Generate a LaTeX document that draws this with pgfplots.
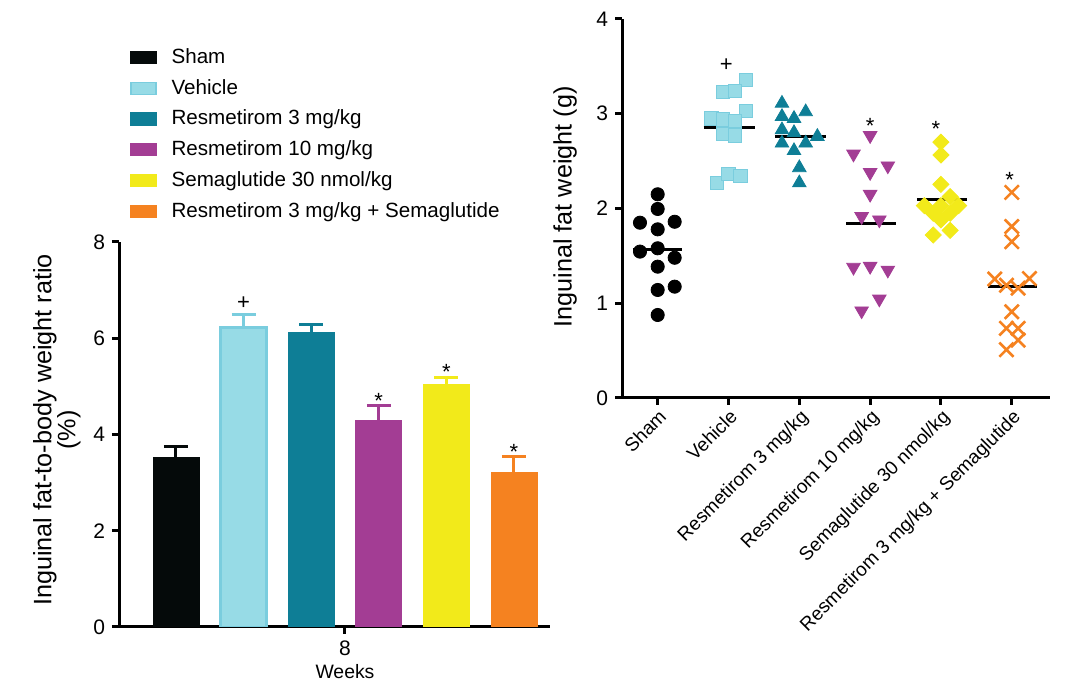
\documentclass[border=0pt]{standalone}
\usepackage{fontspec}
\setmainfont{Liberation Sans}
\usepackage{pgfplots}
\pgfplotsset{compat=1.18}

\definecolor{shamc}{HTML}{050A0A}
\definecolor{vehfill}{HTML}{97DBE6}
\definecolor{vehdraw}{HTML}{7ACDDE}
\definecolor{res3c}{HTML}{0E7E96}
\definecolor{res10c}{HTML}{A33D94}
\definecolor{semac}{HTML}{F2EA1A}
\definecolor{comboc}{HTML}{F58220}

\pgfplotsset{
  common/.style={
    scale only axis,
    enlargelimits=false,
    axis x line*=bottom, axis y line*=left,
    axis line style={line width=1.5pt, black},
    tick style={line width=1.5pt, black},
    major tick length=3.5pt,
    tick align=outside,
    /pgf/number format/assume math mode=true,
    yticklabel style={font=\fontsize{10.5}{12}\selectfont},
    ylabel style={font=\fontsize{12.6}{12}\selectfont},
  },
  errc/.style={
    error bars/error bar style={line width=1.5pt, color=#1},
    error bars/error mark options={line width=1.5pt, mark size=6pt, color=#1},
  },
}

\begin{document}
\begin{tikzpicture}
\useasboundingbox (0,0) rectangle (533pt,341.5pt);

%% left: ratio bars
\begin{axis}[common,
  at={(59.5pt,28pt)}, anchor=south west,
  width=215.5pt, height=192.5pt,
  xmin=0.157, xmax=6.533, ymin=0, ymax=8,
  ytick={0,2,4,6,8},
  xtick={3.5}, xticklabels={8},
  xticklabel style={font=\fontsize{10.5}{12}\selectfont},
  xlabel={Weeks},
  xlabel style={font=\fontsize{9.7}{12}\selectfont, at={(axis cs:3.5,0)}, anchor=center, yshift=-22.5pt},
  ylabel={Inguinal fat-to-body weight ratio\\(\%)},
  ylabel style={align=center, at={(axis description cs:-0.144,0.512)}, anchor=center},
  ybar, bar width=23pt, bar shift=0pt,
  legend image code/.code={\draw[#1, line width=0.6pt] (0pt,-3pt) rectangle (12.5pt,3pt);},
  legend style={at={(axis description cs:0.0255,1.514)}, anchor=north west,
    draw=none, fill=none, font=\fontsize{10.3}{12}\selectfont,
    row sep=2.4pt, column sep=5.5pt, inner sep=0pt},
  legend cell align=left,
  error bars/y dir=plus, error bars/y explicit,
  error bars/error mark=|,
]
\addplot[fill=shamc, draw=shamc, errc=shamc] coordinates {(1,3.52) +- (0,0.24)};
\addlegendentry{Sham}
\addplot[fill=vehfill, draw=vehdraw, line width=1.2pt, errc=vehdraw] coordinates {(2,6.22) +- (0,0.27)};
\addlegendentry{Vehicle}
\addplot[fill=res3c, draw=res3c, errc=res3c] coordinates {(3,6.13) +- (0,0.16)};
\addlegendentry{Resmetirom 3 mg/kg}
\addplot[fill=res10c, draw=res10c, errc=res10c] coordinates {(4,4.30) +- (0,0.30)};
\addlegendentry{Resmetirom 10 mg/kg}
\addplot[fill=semac, draw=semac, errc=semac] coordinates {(5,5.05) +- (0,0.14)};
\addlegendentry{Semaglutide 30 nmol/kg}
\addplot[fill=comboc, draw=comboc, errc=comboc] coordinates {(6,3.22) +- (0,0.32)};
\addlegendentry{Resmetirom 3 mg/kg + Semaglutide}
\node[font=\fontsize{11}{12}\selectfont] at (axis cs:2,6.73) {+};
\node[font=\fontsize{11}{12}\selectfont] at (axis cs:4,4.70) {*};
\node[font=\fontsize{11}{12}\selectfont] at (axis cs:5,5.31) {*};
\node[font=\fontsize{11}{12}\selectfont] at (axis cs:6,3.63) {*};
\end{axis}

%% right: individual fat weights
\begin{axis}[common,
  at={(311pt,142.5pt)}, anchor=south west,
  width=214pt, height=189.5pt,
  xmin=0.496, xmax=6.54, ymin=0, ymax=4,
  ytick={0,1,2,3,4},
  xtick={1,2,3,4,5,6},
  xticklabels={Sham, Vehicle, Resmetirom 3 mg/kg, Resmetirom 10 mg/kg, Semaglutide 30 nmol/kg, Resmetirom 3 mg/kg + Semaglutide},
  xticklabel style={font=\fontsize{9.5}{11}\selectfont, rotate=45, anchor=north east, inner sep=1pt},
  ylabel={Inguinal fat weight (g)},
  ylabel style={at={(axis description cs:-0.133,0.504)}, anchor=center},
]
% Sham
\addplot[only marks, mark=*, mark size=3.3pt, black] coordinates {
(1,2.15)(1,1.995)(0.75,1.85)(1.24,1.86)(1,1.78)(0.75,1.545)(1,1.58)(1.24,1.48)(1,1.386)(1,1.14)(1.24,1.175)(1,0.876)
};
\addplot[black, line width=1.5pt] coordinates {(0.65,1.57)(1.35,1.57)};
% Vehicle
\addplot[only marks, mark=square*, mark size=3.3pt, mark options={fill=vehfill, draw=vehdraw, line width=0.5pt}] coordinates {
(2.25,3.36)(1.925,3.23)(2.09,3.24)(2.25,3.03)(1.76,2.95)(1.925,2.94)(2.09,2.92)(1.925,2.79)(2.09,2.77)(1.84,2.27)(2.0,2.36)(2.17,2.34)
};
\addplot[black, line width=1.5pt] coordinates {(1.65,2.85)(2.37,2.85)};
% Resmetirom 3
\addplot[only marks, mark=triangle*, mark size=3.9pt, res3c] coordinates {
(2.755,3.11)(3.09,3.02)(2.755,2.97)(2.925,2.95)(2.755,2.83)(2.925,2.80)(3.255,2.76)(2.755,2.69)(3.09,2.69)(2.925,2.61)(3.0,2.43)(3.0,2.27)
};
\addplot[black, line width=1.5pt] coordinates {(2.66,2.76)(3.37,2.76)};
% Resmetirom 10
\addplot[only marks, mark=triangle*, mark size=3.9pt, mark options={rotate=180}, res10c] coordinates {
(4,2.77)(3.765,2.575)(4.25,2.45)(4,2.38)(4,2.15)(3.88,1.915)(4.13,1.88)(3.765,1.38)(4,1.39)(4.25,1.35)(4.13,1.045)(3.88,0.92)
};
\addplot[black, line width=1.5pt] coordinates {(3.66,1.84)(4.37,1.84)};
% Semaglutide
\addplot[only marks, mark=square*, mark size=2.85pt, mark options={rotate=45}, semac] coordinates {
(5,2.70)(5,2.565)(5,2.255)(5.13,2.125)(4.765,2.03)(5,2.03)(5.25,2.03)(4.89,1.95)(5.13,1.95)(5,1.88)(4.89,1.72)(5.13,1.77)
};
\addplot[black, line width=1.5pt] coordinates {(4.66,2.09)(5.37,2.09)};
% Combination
\addplot[only marks, mark=x, mark size=5pt, mark options={line width=1.3pt}, comboc] coordinates {
(6,2.17)(6,1.81)(6,1.65)(5.76,1.256)(6.25,1.26)(5.925,1.19)(6.09,1.16)(6,0.91)(5.925,0.735)(6.09,0.735)(6.09,0.61)(5.925,0.51)
};
\addplot[black, line width=1.5pt] coordinates {(5.66,1.175)(6.35,1.175)};
\node[font=\fontsize{11}{12}\selectfont] at (axis cs:1.97,3.51) {+};
\node[font=\fontsize{11}{12}\selectfont] at (axis cs:4,2.875) {*};
\node[font=\fontsize{11}{12}\selectfont] at (axis cs:4.93,2.835) {*};
\node[font=\fontsize{11}{12}\selectfont] at (axis cs:5.97,2.305) {*};
\end{axis}
\end{tikzpicture}
\end{document}
